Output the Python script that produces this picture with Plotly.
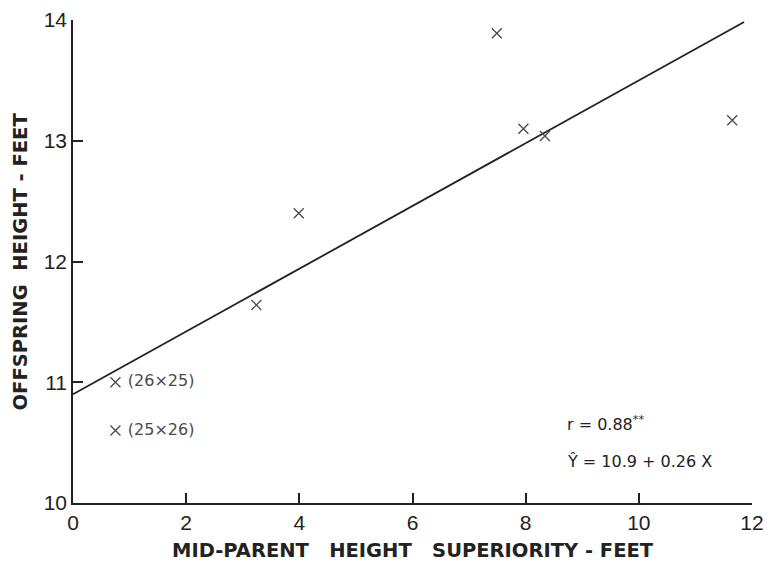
import plotly.graph_objects as go

# data
x_vals = [3.24, 3.99, 7.49, 7.96, 8.34, 11.65]
y_vals = [11.64, 12.40, 13.89, 13.10, 13.04, 13.17]
lab_x = [0.75, 0.75]
lab_y = [11.0, 10.60]
lab_text = ["(26×25)", "(25×26)"]
intercept = 10.9
slope = 0.26
line_x = [0, 11.86]
line_y = [intercept + slope * v for v in line_x]
x_ticks = [0, 2, 4, 6, 8, 10, 12]
y_ticks = [10, 11, 12, 13, 14]

FONT = "Liberation Sans, Arial, sans-serif"
DJ = "DejaVu Sans, sans-serif"
ink = "#222222"
grey = "#4a4a4a"
NB = "\u00a0"

fig = go.Figure()
fig.add_trace(go.Scatter(x=line_x, y=line_y, mode="lines",
                         line=dict(color=ink, width=1.8), showlegend=False))
fig.add_trace(go.Scatter(x=x_vals, y=y_vals, mode="markers",
                         marker=dict(symbol="x-thin", size=10,
                                     line=dict(color=grey, width=1.3)),
                         showlegend=False))
fig.add_trace(go.Scatter(x=lab_x, y=lab_y, mode="markers+text",
                         text=[NB + t for t in lab_text], textposition="middle right",
                         textfont=dict(family=DJ, size=16, color=grey),
                         marker=dict(symbol="x-thin", size=10,
                                     line=dict(color=grey, width=1.3)),
                         showlegend=False))

xtitle = (NB * 3).join(["MID-PARENT", "HEIGHT", "SUPERIORITY"]) + NB + "-" + NB + "FEET"
ytitle = (NB * 2).join(["OFFSPRING", "HEIGHT"]) + NB + "-" + NB + "FEET"

fig.update_layout(
    width=767, height=565,
    margin=dict(l=73, r=15, t=20, b=62),
    paper_bgcolor="white", plot_bgcolor="white",
    font=dict(family=FONT, color=ink),
    xaxis=dict(range=[0, 12], tickvals=x_ticks, ticks="inside", ticklen=10,
               tickcolor=ink, tickwidth=1.5, showgrid=False, zeroline=False,
               showline=True, linecolor=ink, linewidth=1.5, automargin=False,
               tickfont=dict(size=21, color=ink)),
    yaxis=dict(range=[10, 14], tickvals=y_ticks, ticks="inside", ticklen=10,
               tickcolor=ink, tickwidth=1.5, showgrid=False, zeroline=False,
               showline=True, linecolor=ink, linewidth=1.5, automargin=False,
               tickfont=dict(size=21, color=ink)),
    annotations=[
        dict(text="<b>" + xtitle + "</b>", x=0.5, y=-0.1265,
             xref="paper", yref="paper", showarrow=False, yanchor="bottom",
             font=dict(family=DJ, size=19.5, color=ink)),
        dict(text="<b>" + ytitle + "</b>", x=-0.0766, y=0.5,
             xref="paper", yref="paper", showarrow=False, xanchor="center",
             yanchor="middle", textangle=-90, font=dict(family=DJ, size=19.5, color=ink)),
        dict(text="r" + NB + "=" + NB + "0.88<sup>**</sup>", x=8.70, y=10.655, xref="x", yref="y",
             showarrow=False, xanchor="left", font=dict(family=DJ, size=16, color=ink)),
        dict(text="Ŷ = 10.9 + 0.26 X", x=8.70, y=10.345, xref="x", yref="y",
             showarrow=False, xanchor="left", font=dict(family=DJ, size=16, color=ink)),
    ],
)

fig.write_html("out.html", config={"displayModeBar": False},
               post_script="document.body.style.margin='0';document.body.style.overflow='hidden';")
